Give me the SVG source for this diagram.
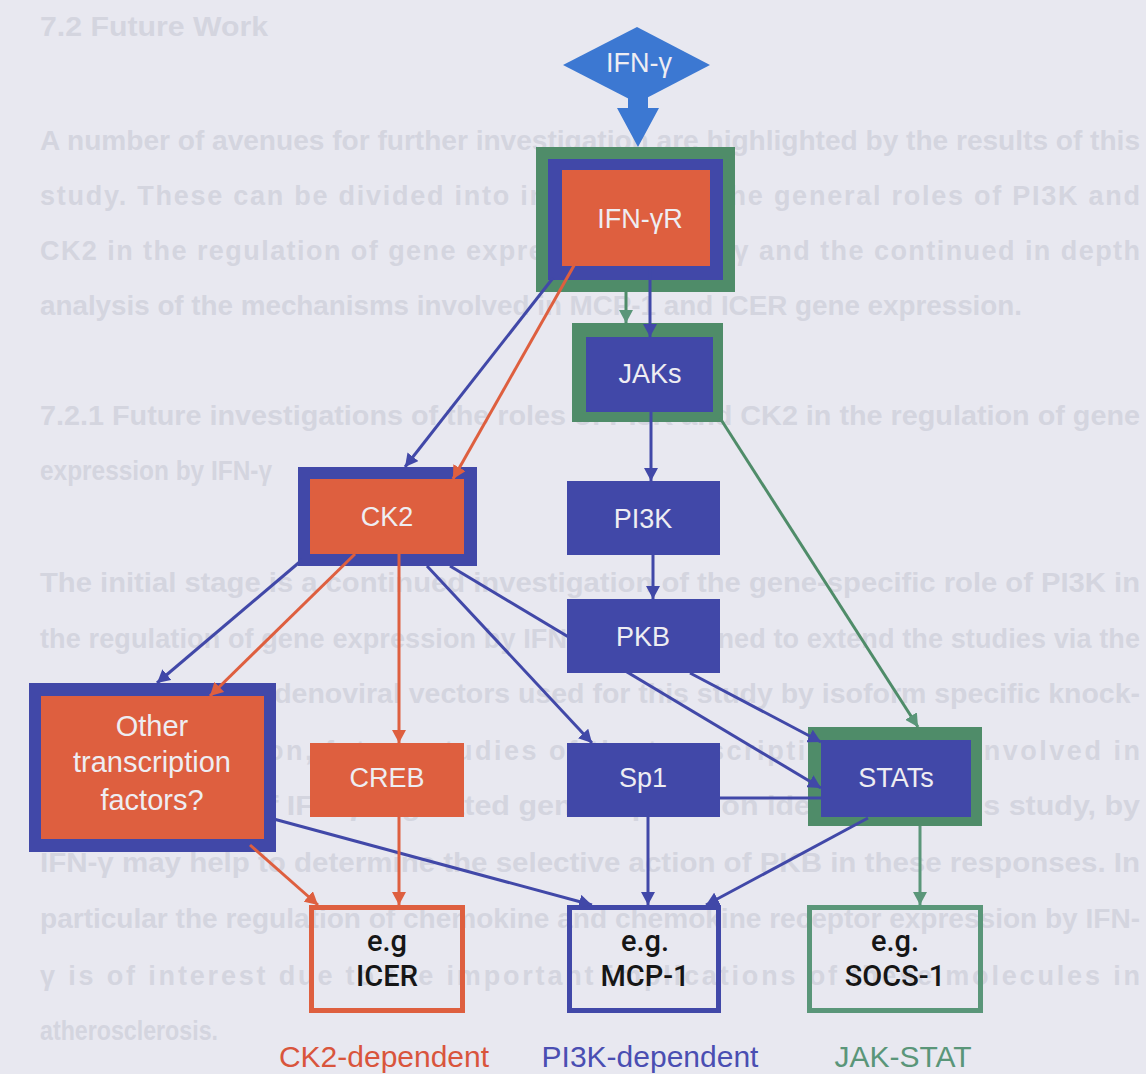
<svg xmlns="http://www.w3.org/2000/svg" width="1146" height="1074" viewBox="0 0 1146 1074">
<style>
.bg{font-family:"Liberation Sans",Arial,sans-serif;font-size:27px;font-weight:bold;fill:#d4d5df}
.lbl{font-family:"Liberation Sans",Arial,sans-serif;font-size:27px;fill:#eeedf2;text-anchor:middle}
.tf{font-family:"Liberation Sans",Arial,sans-serif;font-size:29px;fill:#eeedf2;text-anchor:middle}
.eg{font-family:Roboto,"Liberation Sans",sans-serif;font-weight:500;font-size:29px;fill:#161616;text-anchor:middle}
.leg{font-family:"Liberation Sans",Arial,sans-serif;font-size:30px;text-anchor:middle}
.cb{stroke:#4148a8;stroke-width:3;fill:none}
.co{stroke:#de5f3f;stroke-width:3;fill:none}
.cg{stroke:#4f8c69;stroke-width:3;fill:none}
.fo{fill:#de5f3f}
.fb{fill:#4148a8}
.fg{fill:#4f8c69}
</style>
<defs>
<marker id="ab" markerUnits="userSpaceOnUse" markerWidth="14" markerHeight="14" refX="13" refY="7" orient="auto"><path d="M0,0 L13,7 L0,14 z" fill="#4148a8"/></marker>
<marker id="ao" markerUnits="userSpaceOnUse" markerWidth="14" markerHeight="14" refX="13" refY="7" orient="auto"><path d="M0,0 L13,7 L0,14 z" fill="#de5f3f"/></marker>
<marker id="ag" markerUnits="userSpaceOnUse" markerWidth="14" markerHeight="14" refX="13" refY="7" orient="auto"><path d="M0,0 L13,7 L0,14 z" fill="#5a9679"/></marker>
</defs>
<rect width="1146" height="1074" fill="#e8e8f0"/>
<g id="background-text">
<text class="bg" x="40" y="36" textLength="228" lengthAdjust="spacingAndGlyphs">7.2 Future Work</text>
<text class="bg" x="40" y="150" textLength="1100" lengthAdjust="spacingAndGlyphs">A number of avenues for further investigation are highlighted by the results of this</text>
<text class="bg" x="40" y="205" textLength="1100" lengthAdjust="spacing">study.  These can be divided into investigating the general roles of PI3K and</text>
<text class="bg" x="40" y="260" textLength="1100" lengthAdjust="spacing">CK2 in the regulation of gene expression by IFN-γ and the continued in depth</text>
<text class="bg" x="40" y="315" textLength="982" lengthAdjust="spacingAndGlyphs">analysis of the mechanisms involved in MCP-1 and ICER gene expression.</text>
<text class="bg" x="40" y="425" textLength="1100" lengthAdjust="spacingAndGlyphs">7.2.1 Future investigations of the roles of PI3K and CK2 in the regulation of gene</text>
<text class="bg" x="40" y="480" textLength="232" lengthAdjust="spacingAndGlyphs">expression by IFN-γ</text>
<text class="bg" x="40" y="592" textLength="1100" lengthAdjust="spacingAndGlyphs">The initial stage is a continued investigation of the gene-specific role of PI3K in</text>
<text class="bg" x="40" y="648" textLength="1100" lengthAdjust="spacing">the regulation of gene expression by IFN-γ. It is planned to extend the studies via the</text>
<text class="bg" x="40" y="703" textLength="1100" lengthAdjust="spacingAndGlyphs">development of adenoviral vectors used for this study by isoform specific knock-</text>
<text class="bg" x="40" y="760" textLength="1100" lengthAdjust="spacing">down.  In addition, future studies of the transcription factors involved in</text>
<text class="bg" x="40" y="815" textLength="1100" lengthAdjust="spacingAndGlyphs">the regulation of IFN-γ-regulated gene expression identified in this study, by</text>
<text class="bg" x="40" y="872" textLength="1100" lengthAdjust="spacingAndGlyphs">IFN-γ may help to determine the selective action of PKB in these responses.  In</text>
<text class="bg" x="40" y="928" textLength="1100" lengthAdjust="spacingAndGlyphs">particular the regulation of chemokine and chemokine receptor expression by IFN-</text>
<text class="bg" x="40" y="985" textLength="1100" lengthAdjust="spacing">γ is of interest due to the important implications of these molecules in</text>
<text class="bg" x="40" y="1040" textLength="178" lengthAdjust="spacingAndGlyphs">atherosclerosis.</text>
</g>
<g id="n-ifng">
<polygon points="563,65 637,27 710,65 637,103" fill="#3c78d2"/>
<polygon points="628,96 648,96 648,108 659,108 638,147 617,108 628,108" fill="#3c78d2"/>
<text class="lbl" x="639" y="72">IFN-γ</text>
</g>
<g id="n-ifngr">
<rect x="536" y="147" width="199" height="145" class="fg"/>
<rect x="548" y="159" width="175" height="121" class="fb"/>
<rect x="562" y="170" width="148" height="96" class="fo"/>
<text class="lbl" x="640" y="228">IFN-γR</text>
</g>
<g id="n-jaks">
<rect x="572" y="323" width="151" height="99" class="fg"/>
<rect x="586" y="337" width="127" height="75" class="fb"/>
<text class="lbl" x="650" y="383">JAKs</text>
</g>
<g id="n-ck2">
<rect x="298" y="467" width="179" height="99" class="fb"/>
<rect x="310" y="479" width="154" height="75" class="fo"/>
<text class="lbl" x="387" y="526">CK2</text>
</g>
<g id="n-pi3k">
<rect x="567" y="481" width="153" height="74" class="fb"/>
<text class="lbl" x="643" y="528">PI3K</text>
</g>
<g id="n-other">
<rect x="29" y="683" width="247" height="169" class="fb"/>
<rect x="41" y="696" width="223" height="143" class="fo"/>
<text class="tf" x="152" y="736">Other</text>
<text class="tf" x="152" y="772">transcription</text>
<text class="tf" x="152" y="810">factors?</text>
</g>
<g id="n-creb">
<rect x="310" y="743" width="154" height="74" class="fo"/>
<text class="lbl" x="387" y="787">CREB</text>
</g>
<g id="n-sp1">
<rect x="567" y="743" width="153" height="74" class="fb"/>
<text class="lbl" x="643" y="787">Sp1</text>
</g>
<g id="n-stats">
<rect x="808" y="727" width="174" height="99" class="fg"/>
<rect x="821" y="740" width="150" height="77" class="fb"/>
<text class="lbl" x="896" y="787">STATs</text>
</g>
<g id="n-icer">
<rect x="311.5" y="907.5" width="151" height="103" fill="none" stroke="#de5f3f" stroke-width="5"/>
<text class="eg" x="387" y="951">e.g</text>
<text class="eg" x="387" y="986">ICER</text>
</g>
<g id="n-mcp1">
<rect x="569.5" y="907.5" width="149" height="103" fill="none" stroke="#4148a8" stroke-width="5"/>
<text class="eg" x="645" y="951">e.g.</text>
<text class="eg" x="645" y="986">MCP-1</text>
</g>
<g id="n-socs1">
<rect x="809.5" y="907.5" width="171" height="103" fill="none" stroke="#5a9679" stroke-width="5"/>
<text class="eg" x="895" y="951">e.g.</text>
<text class="eg" x="895" y="986">SOCS-1</text>
</g>
<g id="connectors">
<line class="cb" x1="553" y1="278" x2="405" y2="467" marker-end="url(#ab)"/>
<line class="co" x1="576" y1="262" x2="453" y2="479" marker-end="url(#ao)"/>
<line class="cg" x1="626" y1="292" x2="626" y2="323" marker-end="url(#ag)"/>
<line class="cb" x1="650" y1="266" x2="650" y2="337" marker-end="url(#ab)"/>
<line class="cb" x1="651" y1="412" x2="651" y2="481" marker-end="url(#ab)"/>
<line class="cg" x1="720" y1="418" x2="918" y2="727" marker-end="url(#ag)"/>
<line class="cb" x1="653" y1="555" x2="653" y2="599" marker-end="url(#ab)"/>
<line class="cb" x1="302" y1="560" x2="157" y2="683" marker-end="url(#ab)"/>
<line class="co" x1="355" y1="554" x2="210" y2="696" marker-end="url(#ao)"/>
<line class="co" x1="399" y1="554" x2="399" y2="743" marker-end="url(#ao)"/>
<line class="cb" x1="427" y1="566" x2="592" y2="743" marker-end="url(#ab)"/>
<line class="cb" x1="450" y1="566" x2="821" y2="788" marker-end="url(#ab)"/>
<line class="cb" x1="690" y1="673" x2="821" y2="742" marker-end="url(#ab)"/>
<line class="cb" x1="720" y1="798" x2="821" y2="798"/>
<line class="cb" x1="648" y1="817" x2="648" y2="905" marker-end="url(#ab)"/>
<line class="cb" x1="868" y1="818" x2="706" y2="905" marker-end="url(#ab)"/>
<line class="cg" x1="920" y1="826" x2="920" y2="905" marker-end="url(#ag)" style="stroke:#5a9679"/>
<line class="cb" x1="270" y1="818" x2="592" y2="905" marker-end="url(#ab)"/>
<line class="co" x1="250" y1="845" x2="318" y2="905" marker-end="url(#ao)"/>
<line class="co" x1="399" y1="817" x2="399" y2="905" marker-end="url(#ao)"/>
</g>
<g id="n-pkb">
<rect x="567" y="599" width="153" height="74" class="fb"/>
<text class="lbl" x="643" y="646">PKB</text>
</g>
<g id="legend">
<text class="leg" x="384" y="1067" fill="#d9553c">CK2-dependent</text>
<text class="leg" x="650" y="1067" fill="#4a4eb2">PI3K-dependent</text>
<text class="leg" x="903" y="1067" fill="#5a9679">JAK-STAT</text>
</g>
</svg>
